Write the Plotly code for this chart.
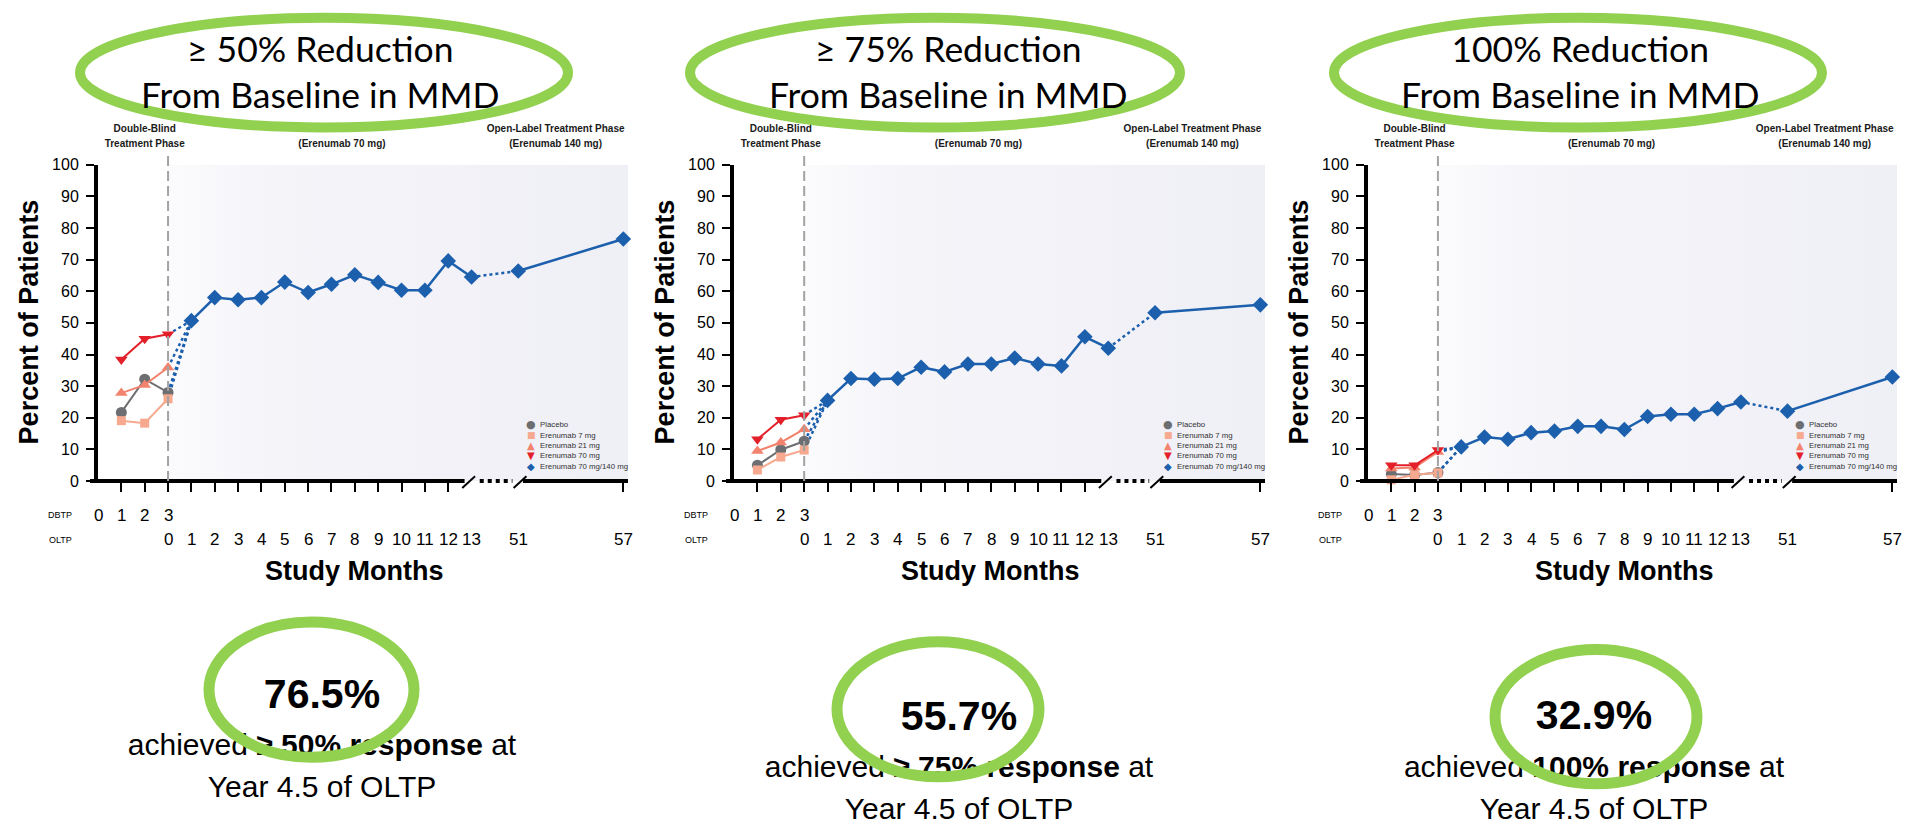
import plotly.graph_objects as go

W, H = 1921, 826

# ------------------------------------------------------------------ data
dbtp_months = [1, 2, 3]
oltp_months = [1, 2, 3, 4, 5, 6, 7, 8, 9, 10, 11, 12, 13, 51, 57]
dbtp_tick_months = [0, 1, 2, 3]
oltp_tick_months = [0, 1, 2, 3, 4, 5, 6, 7, 8, 9, 10, 11, 12, 13, 51, 57]
y_ticks = [0, 10, 20, 30, 40, 50, 60, 70, 80, 90, 100]

# >= 50% reduction
placebo_50 = [21.7, 32.2, 28.0]
e7_50 = [19.1, 18.3, 26.0]
e21_50 = [27.8, 30.4, 35.9]
e70_50 = [38.4, 45.0, 46.4]
oltp_50 = [50.7, 58.0, 57.3, 58.0, 62.9, 59.6, 62.2, 65.2, 62.8, 60.3, 60.3, 69.6, 64.5, 66.4, 76.5]

# >= 75% reduction
placebo_75 = [5.0, 9.9, 12.6]
e7_75 = [3.5, 7.6, 9.8]
e21_75 = [9.5, 12.2, 16.4]
e70_75 = [13.2, 19.4, 20.8]
oltp_75 = [25.5, 32.4, 32.2, 32.4, 36.0, 34.5, 37.0, 37.0, 38.9, 37.0, 36.4, 45.6, 42.0, 53.2, 55.7]

# 100% reduction
placebo_100 = [2.2, 1.9, 2.7]
e7_100 = [0.4, 2.0, 2.6]
e21_100 = [4.0, 4.3, 9.2]
e70_100 = [5.0, 5.0, 9.8]
oltp_100 = [10.8, 13.9, 13.2, 15.3, 15.8, 17.3, 17.3, 16.3, 20.4, 21.1, 21.1, 22.9, 25.0, 22.1, 32.9]

panel_titles = ["≥ 50% Reduction<br>From Baseline in MMD",
                "≥ 75% Reduction<br>From Baseline in MMD",
                "100% Reduction<br>From Baseline in MMD"]
final_pct = ["76.5%", "55.7%", "32.9%"]
response_labels = ["≥ 50% response", "≥ 75% response", "100% response"]
series_names = ["Placebo", "Erenumab 7 mg", "Erenumab 21 mg", "Erenumab 70 mg", "Erenumab 70 mg/140 mg"]

panels = [
    [placebo_50, e7_50, e21_50, e70_50, oltp_50],
    [placebo_75, e7_75, e21_75, e70_75, oltp_75],
    [placebo_100, e7_100, e21_100, e70_100, oltp_100],
]

# ------------------------------------------------------------------ style
GRAY = "#6d6e71"
SALMON_LIGHT = "#f6a98f"
SALMON = "#f2836e"
RED = "#e3202a"
BLUE = "#1c5fac"
GREEN = "#92d050"
DASH_GRAY = "#a3a3a3"
SANS = "Liberation Sans, Arial, sans-serif"
TITLE_FONT = "Lato, Carlito, Calibri, Open Sans, sans-serif"

dbtp_styles = [
    (GRAY, "circle", 11),
    (SALMON_LIGHT, "square", 9),
    (SALMON, "triangle-up", 11),
    (RED, "triangle-down", 11),
]
legend_glyphs = [("●", GRAY, 11), ("■", SALMON_LIGHT, 9), ("▲", SALMON, 10),
                 ("▼", RED, 10), ("◆", BLUE, 10)]

# ------------------------------------------------------------------ geometry
AL = [98, 734, 1368]     # pixel x of the y-axis (month 0) per panel
AR = [628, 1265, 1897]   # pixel x of right end of each panel
XMAX = 22.7
Y_TOP, Y_BOT = 160, 483


def axis_pos_dbtp(m):
    return m


def axis_pos_oltp(m):
    # broken axis: months 0-13 linear, then compressed segment 51-57
    return 3 + m if m <= 13 else 18 + (m - 51) * 0.75


def upx(p, u):
    return AL[p] + u / XMAX * (AR[p] - AL[p])


def fx(x):
    return x / W


def fy(y):
    return 1 - y / H


fig = go.Figure()
shapes = []
annotations = []

axis_names = [("x", "y"), ("x2", "y2"), ("x3", "y3")]
CANVAS = dict(xaxis="x4", yaxis="y4")

for p, (xa, ya) in enumerate(axis_names):
    placebo, e7, e21, e70, oltp = panels[p]
    dbtp_groups = [placebo, e7, e21, e70]
    ax = dict(xaxis=xa, yaxis=ya)

    # shaded open-label background (gradient)
    fig.add_trace(go.Scatter(
        x=[3, XMAX, XMAX, 3, 3], y=[0, 0, 100, 100, 0], mode="lines",
        fill="toself", line=dict(width=0),
        fillgradient=dict(type="horizontal",
                          colorscale=[[0, "#fbfbfd"], [0.25, "#f4f4f9"], [1, "#efeff6"]]),
        hoverinfo="skip", showlegend=False, **ax))

    oltp_x = [axis_pos_oltp(m) for m in oltp_months]

    # dotted transitions from double-blind to open-label month 1
    for g in dbtp_groups:
        fig.add_trace(go.Scatter(
            x=[axis_pos_dbtp(dbtp_months[-1]), oltp_x[0]], y=[g[-1], oltp[0]],
            mode="lines", line=dict(color=BLUE, width=2.5, dash="dot"),
            hoverinfo="skip", showlegend=False, cliponaxis=False, **ax))

    # double-blind series
    for g, name, (col, sym, size) in zip(dbtp_groups, series_names[:4], dbtp_styles):
        fig.add_trace(go.Scatter(
            x=[axis_pos_dbtp(m) for m in dbtp_months], y=g, name=name,
            mode="lines+markers", line=dict(color=col, width=2),
            marker=dict(symbol=sym, size=size, color=col),
            showlegend=False, cliponaxis=False, **ax))

    # open-label series
    n13 = oltp_months.index(13)
    fig.add_trace(go.Scatter(
        x=oltp_x[n13:n13 + 2], y=oltp[n13:n13 + 2], mode="lines",
        line=dict(color=BLUE, width=2.5, dash="dot"),
        hoverinfo="skip", showlegend=False, cliponaxis=False, **ax))
    fig.add_trace(go.Scatter(
        x=oltp_x[:n13 + 1], y=oltp[:n13 + 1], name=series_names[4],
        mode="lines+markers", line=dict(color=BLUE, width=2.5),
        marker=dict(symbol="diamond", size=12, color=BLUE),
        showlegend=False, cliponaxis=False, **ax))
    fig.add_trace(go.Scatter(
        x=oltp_x[n13 + 1:], y=oltp[n13 + 1:], name=series_names[4],
        mode="lines+markers", line=dict(color=BLUE, width=2.5),
        marker=dict(symbol="diamond", size=12, color=BLUE),
        showlegend=False, cliponaxis=False, **ax))

    # ---------------- broken x axis line (paper coords)
    def seg(u0, u1, dash=None, width=4, y0=Y_BOT, y1=Y_BOT, x0px=None):
        x0 = x0px if x0px is not None else upx(p, u0)
        shapes.append(dict(type="line", xref="paper", yref="paper",
                           x0=fx(x0), x1=fx(upx(p, u1)), y0=fy(y0), y1=fy(y1),
                           line=dict(color="black", width=width, dash=dash)))
    seg(0, 15.7, x0px=AL[p] - 8)
    seg(15.6, 16.15, width=2, y0=Y_BOT + 7, y1=Y_BOT - 5)
    seg(16.35, 17.75, dash="dot")
    seg(17.8, 18.35, width=2, y0=Y_BOT + 7, y1=Y_BOT - 5)
    seg(18.2, XMAX)

    # vertical dashed phase separator
    shapes.append(dict(type="line", xref="paper", yref="paper",
                       x0=fx(upx(p, 3)), x1=fx(upx(p, 3)), y0=fy(Y_BOT), y1=fy(150),
                       line=dict(color=DASH_GRAY, width=2, dash="10px,5px")))

    # ---------------- tick labels (two rows)
    for m in dbtp_tick_months:
        annotations.append(dict(x=axis_pos_dbtp(m), xref=xa, y=fy(518), yref="paper",
                                text=str(m), showarrow=False, xanchor="center", yanchor="middle",
                                font=dict(family=SANS, size=17, color="black")))
    for m in oltp_tick_months:
        annotations.append(dict(x=axis_pos_oltp(m), xref=xa, y=fy(543), yref="paper",
                                text=str(m), showarrow=False, xanchor="center", yanchor="middle",
                                font=dict(family=SANS, size=17, color="black")))
    for lab, ypx in (("DBTP", 518), ("OLTP", 543)):
        annotations.append(dict(x=fx(AL[p] - 38), xref="paper", y=fy(ypx), yref="paper",
                                text=lab, showarrow=False, xanchor="center", yanchor="middle",
                                font=dict(family=SANS, size=9, color="black")))

    # axis titles
    annotations.append(dict(x=fx(AL[p] - 69), y=fy(321), xref="paper", yref="paper",
                            text="<b>Percent of Patients</b>", textangle=-90, showarrow=False,
                            xanchor="center", yanchor="middle",
                            font=dict(family=SANS, size=27, color="black")))
    annotations.append(dict(x=fx(AL[p] + 256), y=fy(575), xref="paper", yref="paper",
                            text="<b>Study Months</b>", showarrow=False,
                            xanchor="center", yanchor="middle",
                            font=dict(family=SANS, size=27, color="black")))

    # legend (manual, compact)
    for i, ((glyph, col, gsz), name) in enumerate(zip(legend_glyphs, series_names)):
        ypx = [425, 436, 447, 457, 468][i]
        annotations.append(dict(x=fx(AR[p] - 97), y=fy(ypx), xref="paper", yref="paper",
                                text=glyph, showarrow=False, xanchor="center", yanchor="middle",
                                font=dict(family="DejaVu Sans", size=gsz, color=col)))
        annotations.append(dict(x=fx(AR[p] - 90), y=fy(ypx), xref="paper", yref="paper",
                                text=name, showarrow=False, xanchor="left", yanchor="middle",
                                font=dict(family=SANS, size=7.8, color="#333333")))

    # phase headers (text traces so the callout ellipse can mask them)
    hdr = [
        (2.0, 124, "<b>Double-Blind</b>"), (2.0, 139, "<b>Treatment Phase</b>"),
        (10.45, 117, "<b>Open-Label Treatment Phase</b>"), (10.45, 139, "<b>(Erenumab 70 mg)</b>"),
        (19.6, 124, "<b>Open-Label Treatment Phase</b>"), (19.6, 139, "<b>(Erenumab 140 mg)</b>"),
    ]
    fig.add_trace(go.Scatter(
        x=[upx(p, u) for u, _, _ in hdr], y=[yy for _, yy, _ in hdr],
        text=[t for _, _, t in hdr], mode="text", textposition="middle center",
        textfont=dict(family=SANS, size=10, color="#1a1a1a"),
        hoverinfo="skip", showlegend=False, cliponaxis=False, **CANVAS))

# ------------------------------------------------------------------ callouts
top_ell = [(80, 568), (690, 1180), (1334, 1822)]
title_cx = [320, 948, 1580]
for p in range(3):
    x0, x1 = top_ell[p]
    shapes.append(dict(type="circle", xref="paper", yref="paper", layer="above",
                       x0=fx(x0), x1=fx(x1), y0=fy(10), y1=fy(122),
                       fillcolor="white", line=dict(color=GREEN, width=10)))
    annotations.append(dict(x=fx(title_cx[p]), y=fy(65), xref="paper", yref="paper",
                            text=panel_titles[p], showarrow=False,
                            xanchor="center", yanchor="middle",
                            font=dict(family=TITLE_FONT, size=35.5, color="black")))

bot_ell = [(209, 414, 627, 765), (837, 1039, 647, 785), (1495, 1697, 655, 792)]
bottom_cx = [322, 959, 1594]
bottom_y = [(704, 755, 798), (727, 778, 820), (726, 778, 820)]
for p in range(3):
    x0, x1, y0, y1 = bot_ell[p]
    shapes.append(dict(type="circle", xref="paper", yref="paper", layer="above",
                       x0=fx(x0), x1=fx(x1), y0=fy(y0), y1=fy(y1),
                       line=dict(color=GREEN, width=11)))
    cx = bottom_cx[p]
    ya, yb2, yc = bottom_y[p]
    fig.add_trace(go.Scatter(
        x=[cx], y=[ya], text=["<b>" + final_pct[p] + "</b>"], mode="text",
        textposition="middle center",
        textfont=dict(family=SANS, size=41, color="black"),
        hoverinfo="skip", showlegend=False, cliponaxis=False, **CANVAS))
    fig.add_trace(go.Scatter(
        x=[cx, cx], y=[yb2, yc],
        text=["achieved <b>" + response_labels[p] + "</b> at", "Year 4.5 of OLTP"],
        mode="text", textposition="middle center",
        textfont=dict(family=SANS, size=30, color="black"),
        hoverinfo="skip", showlegend=False, cliponaxis=False, **CANVAS))

# ------------------------------------------------------------------ axes
x_tick_vals = [axis_pos_dbtp(1), axis_pos_dbtp(2)] + \
              [axis_pos_oltp(m) for m in range(0, 13)] + [axis_pos_oltp(57)]
layout_axes = {}
for p, (xa, ya) in enumerate(axis_names):
    xkey = "xaxis" if p == 0 else f"xaxis{p + 1}"
    ykey = "yaxis" if p == 0 else f"yaxis{p + 1}"
    layout_axes[xkey] = dict(
        domain=[fx(AL[p]), fx(AR[p])], range=[0, XMAX], anchor=ya,
        showgrid=False, zeroline=False, showline=False,
        tickmode="array", tickvals=x_tick_vals, ticks="outside",
        ticklen=10, tickwidth=2, tickcolor="black", showticklabels=False,
        fixedrange=True)
    layout_axes[ykey] = dict(
        domain=[fy(Y_BOT), fy(Y_TOP)], range=[0, 100], anchor=xa,
        showgrid=False, zeroline=False, showline=True, linewidth=4, linecolor="black",
        tickmode="array", tickvals=y_ticks, ticks="outside", ticklen=8,
        tickwidth=2, tickcolor="black", ticklabelstandoff=4,
        tickfont=dict(family=SANS, size=16, color="black"), fixedrange=True)
layout_axes["xaxis4"] = dict(domain=[0, 1], range=[0, W], visible=False,
                             anchor="y4", fixedrange=True)
layout_axes["yaxis4"] = dict(domain=[0, 1], range=[H, 0], visible=False,
                             anchor="x4", fixedrange=True)

fig.update_layout(
    width=W, height=H, margin=dict(l=0, r=0, t=0, b=0),
    paper_bgcolor="white", plot_bgcolor="rgba(0,0,0,0)",
    showlegend=False, shapes=shapes, annotations=annotations,
    **layout_axes)

fig.write_html("out.html", config={"displayModeBar": False},
               post_script="document.body.style.margin='0';document.body.style.overflow='hidden';")
